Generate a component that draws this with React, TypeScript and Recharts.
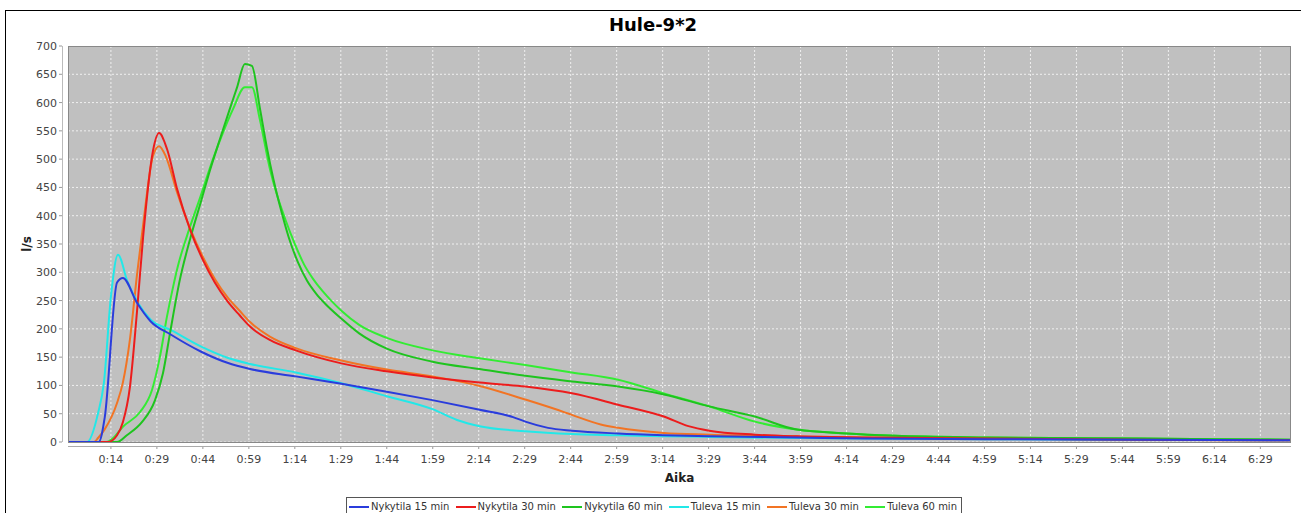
import React from 'react'
import { LineChart, Line, XAxis, YAxis, CartesianGrid } from 'recharts'

type Pt = [number, number]

// minutes from start -> l/s
const timeTicks = [14, 29, 44, 59, 74, 89, 104, 119, 134, 149, 164, 179, 194, 209, 224, 239, 254, 269, 284, 299, 314, 329, 344, 359, 374, 389]
const valueTicks = [0, 50, 100, 150, 200, 250, 300, 350, 400, 450, 500, 550, 600, 650, 700]

const nykytila15: Pt[] = [
  [0, 0], [10, 0], [12, 44], [16, 282], [17.9, 290], [22.5, 246], [27, 213], [33.5, 190], [43.3, 160],
  [52, 140], [59.4, 129], [74.3, 116], [89.2, 103], [104, 89], [118.9, 74], [134.3, 57], [145.2, 44],
  [149.2, 36], [156.6, 25], [164.4, 20], [179.5, 15], [194.4, 12], [209.2, 10], [237.8, 8], [260, 6],
  [300, 5], [350, 4], [399, 3],
]
const nykytila30: Pt[] = [
  [0, 0], [13, 0], [16, 12], [17.9, 35], [20.2, 97], [22.5, 230], [24.5, 362], [27.7, 514], [29.7, 546],
  [32.3, 518], [35.6, 447], [39.8, 376], [44, 322], [47.9, 282], [52, 249], [56, 224], [59.4, 204],
  [66, 180], [74.3, 162], [89.2, 139], [104, 125], [118.9, 114], [134.3, 105], [149.2, 98], [164.4, 86],
  [179.5, 66], [194.4, 45], [202.4, 28], [209.2, 20], [224.1, 13], [237.8, 10], [260, 8], [300, 6],
  [350, 4], [399, 3],
]
const nykytila60: Pt[] = [
  [0, 0], [16, 0], [19.2, 12], [24.1, 35], [28.4, 74], [31, 122], [33.3, 193], [36.5, 287], [39.8, 358],
  [43.7, 431], [46.3, 480], [49.6, 536], [52.5, 584], [55.1, 626], [57.7, 668], [60, 665], [62.6, 590],
  [64.9, 520], [67, 465], [69.5, 410], [72, 362], [75, 318], [78, 285], [81, 262], [84, 244], [89.2, 218],
  [95, 192], [104, 165], [118.9, 142], [134.3, 129], [149.2, 117], [164.4, 107], [179.5, 98], [194.4, 84],
  [209.2, 63], [224.1, 45], [237.8, 22], [254, 15], [270, 11], [300, 8], [350, 6], [399, 4],
]
const tuleva15: Pt[] = [
  [0, 0], [6.2, 0], [9.8, 51], [11.7, 104], [14, 257], [16.3, 331], [19.5, 282], [22.8, 246], [27, 216],
  [33.5, 198], [43.3, 169], [52, 149], [59.4, 138], [74.3, 123], [89.2, 104], [104, 81], [118.9, 58],
  [126.9, 39], [134.3, 28], [149.2, 19], [164.4, 14], [179.5, 12], [194.4, 10], [209.2, 9], [237.8, 7],
  [260, 6], [300, 5], [350, 4], [399, 3],
]
const tuleva30: Pt[] = [
  [0, 0], [8.5, 0], [9.8, 7], [11.8, 21], [16, 69], [17.9, 105], [20.2, 181], [22.6, 300], [24.2, 370],
  [27.7, 505], [29.7, 523], [31.9, 505], [35.6, 441], [39.8, 378], [44, 327], [47.9, 288], [52, 256],
  [56, 232], [59.4, 212], [66, 186], [74.3, 166], [89.2, 144], [104, 128], [118.9, 116], [134.3, 99],
  [149.2, 75], [162.3, 52], [164.4, 48], [173.8, 31], [179.5, 25], [194.4, 16], [209.2, 13], [237.8, 10],
  [260, 8], [300, 6], [350, 4], [399, 3],
]
const tuleva60: Pt[] = [
  [0, 0], [12.5, 0], [14.5, 6], [17.9, 27], [23.5, 53], [27.4, 92], [30, 151], [32.3, 222], [34.2, 272],
  [36.2, 318], [38.8, 364], [43.3, 435], [47.3, 500], [50.5, 546], [53.8, 588], [57.7, 627], [60, 627],
  [62.6, 570], [65.9, 482], [68, 440], [71, 392], [74, 350], [77, 314], [80, 288], [83, 267], [86, 249],
  [89.2, 232], [95, 207], [104, 184], [118.9, 162], [134.3, 148], [149.2, 136], [164.4, 123], [179.5, 110],
  [194.4, 86], [209.2, 63], [224.1, 36], [237.8, 22], [254, 15], [270, 11], [300, 8], [350, 6], [399, 4],
]

const series = [
  { name: 'Nykytila 15 min', color: '#2a3cdc', points: nykytila15 },
  { name: 'Nykytila 30 min', color: '#ec1c1c', points: nykytila30 },
  { name: 'Nykytila 60 min', color: '#1ec41e', points: nykytila60 },
  { name: 'Tuleva 15 min', color: '#22e8e8', points: tuleva15 },
  { name: 'Tuleva 30 min', color: '#f27424', points: tuleva30 },
  { name: 'Tuleva 60 min', color: '#33ec33', points: tuleva60 },
]

const FONT = '"DejaVu Sans", sans-serif'
const PLOT = { left: 68, top: 46, right: 1291, bottom: 442 }

const fmtTime = (m: number) => `${Math.floor(m / 60)}:${String(m % 60).padStart(2, '0')}`

const XTick = (props: any) => {
  const { x, y, payload } = props
  return (
    <g>
      <line x1={x} x2={x} y1={y + 4} y2={y + 7} stroke="#999" />
      <text x={x} y={y + 21} textAnchor="middle" fontSize={11} fill="#444" fontFamily={FONT}>
        {fmtTime(payload.value)}
      </text>
    </g>
  )
}

const YTick = (props: any) => {
  const { x, y, payload } = props
  return (
    <g>
      <line x1={x - 9} x2={x - 6} y1={y} y2={y} stroke="#999" />
      <text x={x - 11} y={y + 4} textAnchor="end" fontSize={11} fill="#444" fontFamily={FONT}>
        {payload.value}
      </text>
    </g>
  )
}

const App = () => {
  return (
    <div style={{
      position: 'absolute', left: 0, top: 0, width: 1301, height: 513,
      background: '#fff', overflow: 'hidden', fontFamily: FONT,
    }}>
      <div style={{
        position: 'absolute', left: 5, top: 10, width: 1320, height: 540,
        border: '1px solid #000',
      }} />
      <div style={{
        position: 'absolute', left: 0, width: 1306, top: 14, textAlign: 'center',
        fontSize: 18, fontWeight: 700, color: '#000',
      }}>
        Hule-9*2
      </div>

      <div style={{ position: 'absolute', left: 0, top: 0 }}>
        <LineChart
          width={1301}
          height={513}
          margin={{ top: PLOT.top, right: 1301 - PLOT.right, bottom: 0, left: 0 }}
        >
          <CartesianGrid fill="#c0c0c0" stroke="#ffffff" strokeOpacity={0.75} strokeDasharray="2 2" />
          <XAxis
            dataKey="t" type="number" domain={[0, 399]} ticks={timeTicks} interval={0}
            height={513 - PLOT.bottom} tickSize={0} tickMargin={0}
            axisLine={false} tickLine={false} tick={<XTick />}
            allowDuplicatedCategory={false}
          />
          <YAxis
            type="number" domain={[0, 700]} ticks={valueTicks} interval={0}
            width={PLOT.left} tickSize={0} tickMargin={0}
            axisLine={false} tickLine={false} tick={<YTick />}
          />
          {[...series].reverse().map(s => (
            <Line
              key={s.name}
              data={s.points.map(([t, v]) => ({ t, v }))}
              dataKey="v"
              name={s.name}
              type="monotone"
              stroke={s.color}
              strokeWidth={2}
              dot={false}
              isAnimationActive={false}
            />
          ))}
        </LineChart>
      </div>

      {/* plot border and offset axis lines */}
      <div style={{
        position: 'absolute', left: PLOT.left, top: PLOT.top,
        width: PLOT.right - PLOT.left, height: PLOT.bottom - PLOT.top + 1,
        border: '1px solid #888', boxSizing: 'border-box', pointerEvents: 'none',
      }} />
      <div style={{
        position: 'absolute', left: PLOT.left, top: PLOT.bottom + 4,
        width: PLOT.right - PLOT.left, height: 1, background: '#aaa',
      }} />
      <div style={{
        position: 'absolute', left: PLOT.left - 6, top: PLOT.top,
        width: 1, height: PLOT.bottom - PLOT.top, background: '#bbb',
      }} />

      <div style={{
        position: 'absolute', left: PLOT.left, width: PLOT.right - PLOT.left, top: 471,
        textAlign: 'center', fontSize: 12, fontWeight: 700, color: '#222',
      }}>
        Aika
      </div>
      <div style={{
        position: 'absolute', left: 27, top: (PLOT.top + PLOT.bottom) / 2,
        transform: 'translate(-50%, -50%) rotate(-90deg)',
        fontSize: 12, fontWeight: 700, color: '#222', whiteSpace: 'nowrap',
      }}>
        l/s
      </div>

      {/* legend */}
      <div style={{
        position: 'absolute', left: 346, top: 497, width: 616, height: 30,
        border: '1px solid #555', boxSizing: 'border-box',
        display: 'flex', justifyContent: 'space-between', alignItems: 'flex-start',
        padding: '2px 4px 0 2px', fontSize: 10, color: '#333',
      }}>
        {series.map(s => (
          <div key={s.name} style={{ display: 'flex', alignItems: 'center', lineHeight: '14px' }}>
            <div style={{ width: 20, height: 2, background: s.color, marginRight: 2 }} />
            <span>{s.name}</span>
          </div>
        ))}
      </div>
    </div>
  )
}

export default App
